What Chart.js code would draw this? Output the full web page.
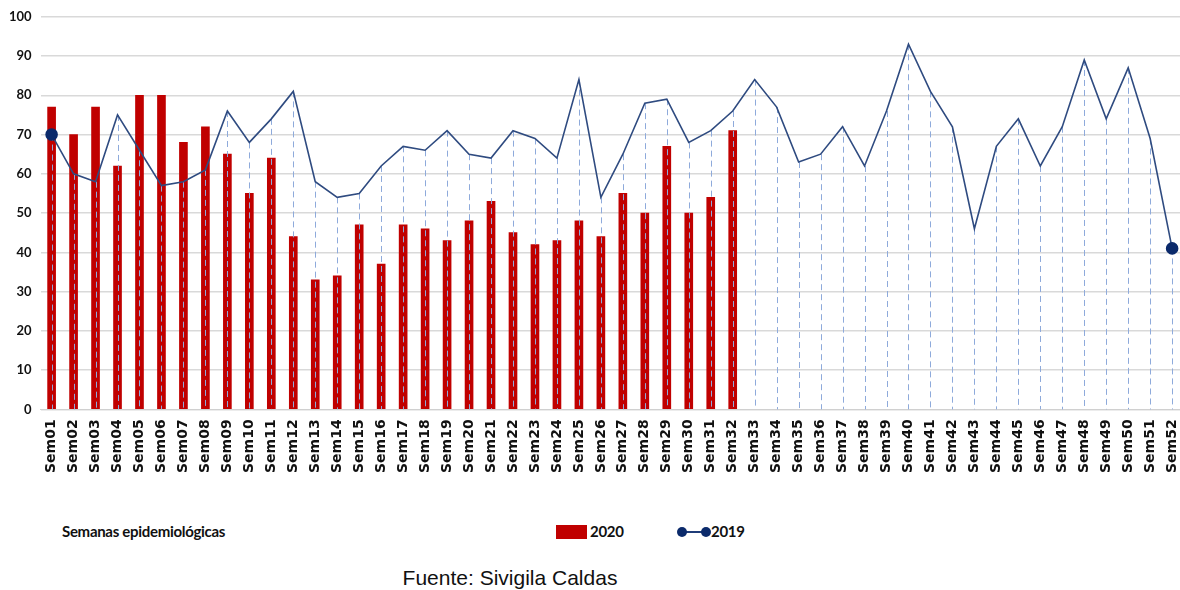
<!DOCTYPE html>
<html>
<head>
<meta charset="utf-8">
<script src="https://cdn.jsdelivr.net/npm/chart.js@4.4.0/dist/chart.umd.min.js"></script>
<style>
  html, body { margin: 0; padding: 0; background: #fff; overflow: hidden; }
  #wrap { position: relative; width: 1180px; height: 590px; overflow: hidden; }
  #box { position: absolute; left: 0; top: 0; width: 1199px; height: 500px; }
  .lbl { position: absolute; font-family: Lato, "Open Sans", sans-serif; font-weight: bold; font-size: 15px; letter-spacing: -0.3px; color: #111; }
  #axisTitle { left: 62px; top: 522px; }
  #leg2020 { left: 556px; top: 522px; }
  #leg2020 .sw { display: inline-block; width: 31px; height: 14px; background: #c00000; vertical-align: -2px; margin-right: 3px; }
  #leg2019 { left: 677px; top: 522px; }
  #leg2019 .ln { display: inline-block; position: relative; width: 34px; height: 14px; vertical-align: -2px; }
  #leg2019 .ln i { position: absolute; left: 4px; right: 4px; top: 6px; height: 2px; background: #1f3c78; }
  #leg2019 .ln b { position: absolute; top: 2px; width: 10px; height: 10px; border-radius: 50%; background: #0b2a6b; }
  #source { position: absolute; left: 0; width: 1020px; text-align: center; top: 566px; font-family: "Liberation Sans", Arial, sans-serif; font-size: 21px; color: #111; }
</style>
</head>
<body>
<div id="wrap">
  <div id="box"><canvas id="chart"></canvas></div>
  <div class="lbl" id="axisTitle">Semanas epidemiológicas</div>
  <div class="lbl" id="leg2020"><span class="sw"></span>2020</div>
  <div class="lbl" id="leg2019"><span class="ln"><i></i><b style="left:0"></b><b style="right:0"></b></span>2019</div>
  <div id="source">Fuente: Sivigila Caldas</div>
</div>
<script>
// semanas epidemiologicas
const weeks = [];
for (let i = 1; i <= 52; i++) weeks.push("Sem" + String(i).padStart(2, "0"));

const cases2020 = [77, 70, 77, 62, 80, 80, 68, 72, 65, 55, 64, 44, 33, 34, 47, 37,
    47, 46, 43, 48, 53, 45, 42, 43, 48, 44, 55, 50, 67, 50, 54, 71];

const cases2019 = [70, 60, 58, 75, 66, 57, 58, 61, 76, 68, 74, 81, 58, 54, 55, 62,
    67, 66, 71, 65, 64, 71, 69, 64, 84, 54, 65, 78, 79, 68, 71, 76,
    84, 77, 63, 65, 72, 62, 76, 93, 81, 72, 46, 67, 74, 62, 72, 89,
    74, 87, 69, 41];

const yTicks = [0, 10, 20, 30, 40, 50, 60, 70, 80, 90, 100];

// lineas de caida punteadas desde cada punto de 2019 hasta el eje
const dropLines = {
    id: "dropLines",
    beforeDatasetDraw(chart, args) {
        if (args.index !== 1) return;
        const ctx = chart.ctx;
        const bottom = chart.scales.y.getPixelForValue(0);
        ctx.save();
        ctx.strokeStyle = "#8eaadb";
        ctx.lineWidth = 1;
        ctx.setLineDash([6, 4]);
        args.meta.data.forEach((pt) => {
            ctx.beginPath();
            ctx.moveTo(Math.round(pt.x) + 0.5, pt.y);
            ctx.lineTo(Math.round(pt.x) + 0.5, bottom);
            ctx.stroke();
        });
        ctx.restore();
    }
};

const lastIdx = cases2019.length - 1;

new Chart(document.getElementById("chart").getContext("2d"), {
    type: "bar",
    data: {
        labels: weeks,
        datasets: [
            {
                label: "2020",
                data: cases2020,
                backgroundColor: "#c00000",
                barThickness: 8,
                order: 2
            },
            {
                type: "line",
                label: "2019",
                data: cases2019,
                borderColor: "#2f4b80",
                borderWidth: 1.6,
                tension: 0,
                pointRadius: (c) => (c.dataIndex === 0 || c.dataIndex === lastIdx ? 5.5 : 0),
                pointBackgroundColor: "#0b2a6b",
                pointBorderColor: "#0b2a6b",
                order: 1
            }
        ]
    },
    options: {
        responsive: true,
        maintainAspectRatio: false,
        animation: false,
        layout: { padding: { top: 15, right: 0, left: 0, bottom: 17 } },
        plugins: {
            legend: { display: false },
            tooltip: { enabled: false }
        },
        scales: {
            x: {
                grid: { display: false, drawTicks: false },
                border: { color: "#d0d0d0", width: 1 },
                ticks: {
                    color: "#111",
                    autoSkip: false,
                    minRotation: 90,
                    maxRotation: 90,
                    padding: 10,
                    font: { family: "'DejaVu Sans', sans-serif", weight: "bold", size: 14 }
                }
            },
            y: {
                min: 0,
                max: 100,
                afterBuildTicks: (axis) => { axis.ticks = yTicks.map((v) => ({ value: v })); },
                grid: { color: "#d9d9d9", lineWidth: 1.5, drawTicks: false },
                border: { display: false },
                ticks: {
                    color: "#111",
                    padding: 9,
                    font: { family: "Lato, 'Open Sans', sans-serif", weight: "bold", size: 13 }
                }
            }
        }
    },
    plugins: [dropLines]
});
</script>
</body>
</html>
